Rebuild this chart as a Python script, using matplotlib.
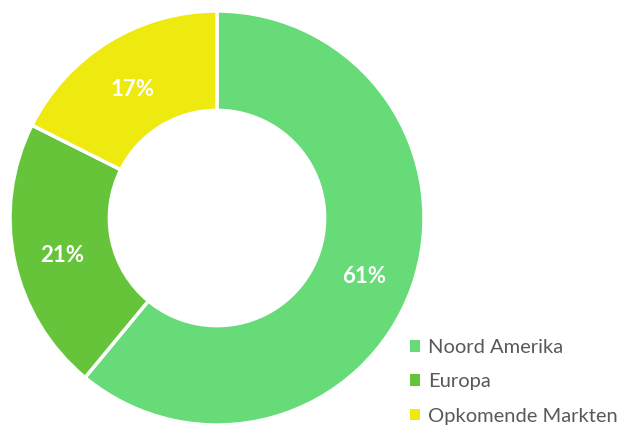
import matplotlib
matplotlib.use("Agg")
import matplotlib.pyplot as plt
import matplotlib.transforms as mtransforms
from matplotlib.patches import Patch

categories = ["Noord Amerika", "Europa", "Opkomende Markten"]
values = [61.0, 21.4, 17.6]
labels = ["61%", "21%", "17%"]
colors = ["#66DB77", "#66C43A", "#EEEA10"]

plt.rcParams['font.family'] = ['Lato', 'DejaVu Sans']

W, H = 630, 425
fig = plt.figure(figsize=(W / 100, H / 100), dpi=100)
cx, cy, R = 217, 218, 207
ax = fig.add_axes([(cx - R) / W, (H - cy - R) / H, 2 * R / W, 2 * R / H])
ax.set_aspect('equal')
ax.axis('off')

wedges, texts = ax.pie(values, colors=colors, startangle=90, counterclock=False,
                       radius=1.0, labels=labels, labeldistance=0.76,
                       wedgeprops=dict(width=0.48, edgecolor='white', linewidth=2.5),
                       textprops=dict(color='white', fontsize=16, fontweight='bold',
                                      ha='center', va='center_baseline'))
ax.set_xlim(-1, 1)
ax.set_ylim(-1, 1)
for t in texts:
    t.set_transform(mtransforms.offset_copy(ax.transData, fig=fig, x=-1, y=-2.5, units='points'))

handles = [Patch(facecolor=c, edgecolor='none') for c in colors]
leg = fig.legend(handles, categories, loc='upper left',
                 bbox_to_anchor=(410 / W, 1 - 339 / H), frameon=False,
                 fontsize=14.5, handlelength=0.5, handleheight=0.5,
                 handletextpad=0.4, labelspacing=0.86, borderaxespad=0,
                 borderpad=0)
for t in leg.get_texts():
    t.set_color('#595959')

fig.savefig("out.png", dpi=100)
